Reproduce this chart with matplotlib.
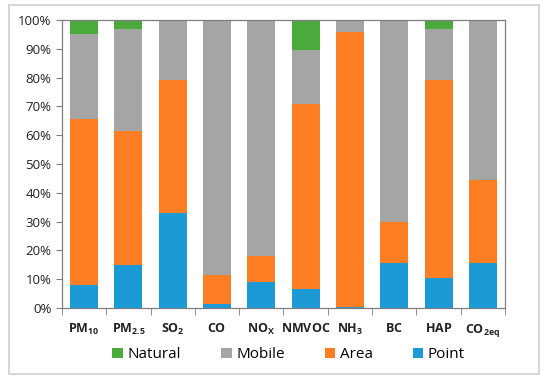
import numpy as np
import matplotlib
matplotlib.use('Agg')
import matplotlib.pyplot as plt
import matplotlib.patches as patches
from matplotlib.ticker import FuncFormatter, FixedLocator

plt.rcParams['font.family'] = 'Open Sans'
plt.rcParams['mathtext.fontset'] = 'custom'
plt.rcParams['mathtext.rm'] = 'Open Sans'
plt.rcParams['mathtext.bf'] = 'Open Sans:bold'

# categories and shares (%)
categories = [r'$\mathbf{PM}_{\mathbf{10}}$', r'$\mathbf{PM}_{\mathbf{2.5}}$', r'$\mathbf{SO}_{\mathbf{2}}$',
              r'$\mathbf{CO}$', r'$\mathbf{NO}_{\mathbf{X}}$', r'$\mathbf{NMVOC}$', r'$\mathbf{NH}_{\mathbf{3}}$',
              r'$\mathbf{BC}$', r'$\mathbf{HAP}$', r'$\mathbf{CO}_{\mathbf{2eq}}$']
point = [8, 15, 33, 1.5, 9, 6.5, 0.5, 15.5, 10.5, 15.5]
area = [57.5, 46.5, 46, 10, 9, 64.5, 95.5, 14.5, 68.5, 29]
mobile = [29.5, 35.5, 21, 88.5, 82, 18.5, 4, 70, 18, 55.5]
natural = [5, 3, 0, 0, 0, 10.5, 0, 0, 3, 0]

colors = {'Point': '#1B9AD6', 'Area': '#FD7E23', 'Mobile': '#A5A5A5', 'Natural': '#4AAA3B'}

fig = plt.figure(figsize=(5.5, 3.85), dpi=100)
ax = fig.add_axes([0.1127, 0.2, 0.8055, 0.748])

x = np.arange(len(categories))
w = 0.63
bottom = np.zeros(len(categories))
series = [('Point', point), ('Area', area), ('Mobile', mobile), ('Natural', natural)]
handles = {}
for name, vals in series:
    vals = np.array(vals, dtype=float)
    handles[name] = ax.bar(x, vals, w, bottom=bottom, color=colors[name], label=name, zorder=2)
    bottom += vals

ax.set_xlim(-0.5, len(categories) - 0.5)
ax.set_ylim(0, 100)
ax.set_yticks(np.arange(0, 101, 10))
ax.yaxis.set_major_formatter(FuncFormatter(lambda v, p: '%d%%' % v))
ax.tick_params(axis='y', labelsize=9.5, length=4, color='#7f7f7f', labelcolor='#222222')

ax.set_xticks(x)
ax.set_xticklabels(categories, fontsize=9)
ax.tick_params(axis='x', which='major', length=0, pad=10, labelcolor='#222222')
ax.xaxis.set_minor_locator(FixedLocator(np.arange(-0.5, len(categories), 1.0)))
ax.tick_params(axis='x', which='minor', length=5, color='#7f7f7f')

for s in ax.spines.values():
    s.set_color('#7f7f7f')
    s.set_linewidth(0.9)

order = ['Natural', 'Mobile', 'Area', 'Point']
fig.legend([handles[k] for k in order], order, loc='center', bbox_to_anchor=(0.525, 0.078),
           ncol=4, frameon=False, fontsize=11, handlelength=0.7, handleheight=0.7,
           handletextpad=0.3, columnspacing=2.6)

# outer frame
fig.patches.append(patches.Rectangle((9 / 550, 1 - 374 / 385), 530 / 550, 369 / 385,
                                     transform=fig.transFigure, fill=False,
                                     edgecolor='#d0d0d0', linewidth=1.2))

fig.savefig('out.png', dpi=100)
